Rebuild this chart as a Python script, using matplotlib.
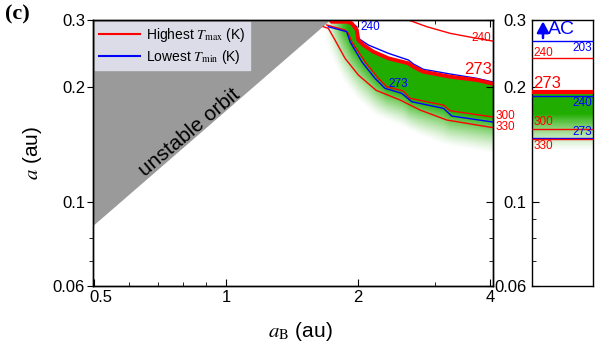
import numpy as np
import matplotlib
matplotlib.use('Agg')
import matplotlib.pyplot as plt
from matplotlib.colors import LinearSegmentedColormap
from matplotlib.ticker import NullFormatter
from matplotlib.lines import Line2D
import matplotlib.transforms as mtransforms

plt.rcParams['font.family'] = ['Liberation Sans', 'DejaVu Sans']
plt.rcParams['mathtext.fontset'] = 'stix'

# ---------------- data ----------------
crit = 0.174                      # unstable orbit boundary: a > crit * aB
edge_aB = np.array([0.45, 1.9])

tmax273_aB = [1.73, 1.742, 1.885, 1.935, 1.987, 2.003, 2.057, 2.167, 2.346, 2.605, 2.674, 2.818, 3.242, 3.730, 4.06]
tmax273_a = [0.300, 0.2969, 0.2969, 0.2941, 0.2824, 0.2658, 0.2579, 0.2476, 0.2379, 0.2308, 0.2261, 0.2194, 0.2129, 0.2087, 0.2040]

tmin240_aB = [1.89, 1.901, 1.987, 2.003, 2.111, 2.346, 2.605, 2.674, 2.818, 3.242, 3.730, 4.06]
tmin240_a = [0.301, 0.2982, 0.2881, 0.2685, 0.2579, 0.2452, 0.2355, 0.2299, 0.2226, 0.2164, 0.2108, 0.2062]

tmax300_aB = [1.697, 1.868, 1.901, 1.935, 2.075, 2.225, 2.325, 2.537, 2.628, 3.131, 3.242, 4.06]
tmax300_a = [0.2911, 0.2824, 0.2768, 0.2631, 0.2331, 0.2108, 0.2004, 0.1952, 0.1868, 0.1793, 0.1733, 0.1668]

tmin273_aB = [1.711, 1.885, 1.918, 2.040, 2.186, 2.305, 2.516, 2.652, 3.131, 3.271, 4.06]
tmin273_a = [0.2881, 0.2795, 0.2631, 0.2331, 0.2108, 0.1984, 0.1925, 0.1830, 0.1758, 0.1678, 0.1618]

tmax330_aB = [1.667, 1.711, 1.772, 1.868, 2.003, 2.20, 2.494, 2.770, 3.187, 4.06]
tmax330_a = [0.2881, 0.2853, 0.2658, 0.2379, 0.2151, 0.196, 0.1849, 0.1740, 0.1638, 0.1564]

tmax240_aB = [2.58, 2.605, 2.869, 3.242, 3.665, 4.06]
tmax240_a = [0.302, 0.300, 0.2881, 0.2768, 0.2695, 0.2640]

# AC (single star) panel levels
ac_tmin203 = 0.2642
ac_tmax240 = 0.2379
ac_tmax273 = 0.1937
ac_tmin240 = 0.1894
ac_tmax300 = 0.1551
ac_tmin273 = 0.1471
ac_tmax330 = 0.1460
ac_solid_low = 0.170
ac_fade_low = 0.136

x_ticks = [0.5, 1, 2, 4]
x_ticklabels = ['0.5', '1', '2', '4']
x_minor = [0.6, 0.7, 0.8, 0.9, 3]
y_ticks = [0.06, 0.1, 0.2, 0.3]
y_ticklabels = ['0.06', '0.1', '0.2', '0.3']

# ---------------- figure ----------------
fig = plt.figure(figsize=(6.13, 3.56), dpi=100)
ax = fig.add_axes([0.1512, 0.1966, 0.6530, 0.7472])
ax_ac = fig.add_axes([0.8674, 0.1966, 0.1000, 0.7472])

ax.set_xscale('log')
ax.set_yscale('log')
ax.set_xlim(0.497, 4.06)
ax.set_ylim(0.06, 0.3)

green = (0.13, 0.68, 0.0)
gcmap = LinearSegmentedColormap.from_list('gfade', [(*green, 0.0), (*green, 1.0)])

# green habitable shading below the 273 K T_max curve
gx = np.logspace(np.log10(1.6), np.log10(4.1), 500)
gy = np.logspace(np.log10(0.12), np.log10(0.305), 400)
LX, LY = np.meshgrid(np.log10(gx), np.log10(gy))
top = np.interp(LX, np.log10(tmax273_aB), np.log10(tmax273_a))
l300 = np.interp(LX, np.log10(tmax300_aB), np.log10(tmax300_a))
l330 = np.interp(LX, np.log10(tmax330_aB), np.log10(tmax330_a))
end = l330 - 26 / 380.5
I = np.clip((LY - end) / (l300 - end), 0, 1) ** 1.3
I[LY > top] = 0
h = np.clip((LX - np.log10(1.66)) / (np.log10(1.93) - np.log10(1.66)), 0, 1)
h = h * h * (3 - 2 * h)
I = I * h
ax.pcolormesh(gx, gy, np.ma.masked_less(I, 0.004), cmap=gcmap, vmin=0, vmax=1,
              shading='nearest', zorder=1, antialiased=False, linewidth=0)

# unstable region
ax.fill_between(edge_aB, crit * edge_aB, 0.32, color='#9a9a9a', lw=0, zorder=2)
ax.text(0.828, 0.1523, 'unstable orbit', rotation=40, fontsize=15,
        ha='center', va='center', zorder=4)

# temperature contours
thin = 1.0
ax.plot(tmax240_aB, tmax240_a, color='red', lw=thin, zorder=3)
ax.plot(tmax300_aB, tmax300_a, color='red', lw=thin, zorder=3)
ax.plot(tmax330_aB, tmax330_a, color='red', lw=thin, zorder=3)
ax.plot(tmin240_aB, tmin240_a, color='blue', lw=thin, zorder=3)
ax.plot(tmin273_aB, tmin273_a, color='blue', lw=thin, zorder=3)
ax.plot(tmax273_aB, tmax273_a, color='red', lw=2.8, zorder=3, solid_capstyle='round')

lab_fs = 8.5
ax.text(2.13, 0.2884, '240', color='blue', fontsize=lab_fs, ha='center', va='center', zorder=4)
ax.text(2.468, 0.2031, '273', color='blue', fontsize=lab_fs, ha='center', va='center', zorder=4)
ax.text(4.03, 0.2695, '240', color='red', fontsize=lab_fs, ha='right', va='center', zorder=4)
ax.text(4.03, 0.2217, '273', color='red', fontsize=12, ha='right', va='center', zorder=4)
ax.text(4.11, 0.1683, '300', color='red', fontsize=lab_fs, ha='left', va='center', clip_on=False)
ax.text(4.11, 0.1569, '330', color='red', fontsize=lab_fs, ha='left', va='center', clip_on=False)

# legend
handles = [Line2D([], [], color='red', lw=1.5), Line2D([], [], color='blue', lw=1.5)]
leg = ax.legend(handles, [r'Highest $T_{\rm max}$ (K)', r'Lowest $T_{\rm min}$ (K)'],
                loc='upper left', bbox_to_anchor=(0.006, 0.994), borderaxespad=0,
                fontsize=10, handlelength=2.9, handletextpad=0.5, labelspacing=0.3,
                borderpad=0.3, frameon=True, fancybox=False, facecolor='#dcdce8',
                edgecolor='#dcdce8', framealpha=1)
leg.set_zorder(5)

# ticks main
ax.set_xticks(x_ticks, labels=x_ticklabels)
ax.set_xticks(x_minor, minor=True)
ax.xaxis.set_minor_formatter(NullFormatter())
ax.set_yticks(y_ticks, labels=y_ticklabels)
ax.set_yticks([0.07, 0.08], minor=True)
ax.yaxis.set_minor_formatter(NullFormatter())
ax.tick_params(axis='x', which='both', direction='in', top=True, bottom=True, labelsize=12, pad=3)
ax.tick_params(axis='x', which='major', length=5)
ax.tick_params(axis='x', which='minor', length=3)

ax_r = ax.twinx()
ax_r.set_yscale('log')
ax_r.set_ylim(0.06, 0.3)
ax_r.set_yticks(y_ticks)
ax_r.set_yticks([0.07, 0.08, 0.09], minor=True)
ax_r.yaxis.set_major_formatter(NullFormatter())
ax_r.yaxis.set_minor_formatter(NullFormatter())
ax_r.tick_params(axis='y', which='both', direction='in', right=True, labelright=False)
ax_r.tick_params(axis='y', which='major', length=5)
ax_r.tick_params(axis='y', which='minor', length=3)

ax.tick_params(axis='y', which='both', direction='out', left=True, right=False, labelsize=12, pad=1)
ax.tick_params(axis='y', which='major', length=4.5)
ax.tick_params(axis='y', which='minor', length=3)

lab = ax.xaxis.get_major_ticks()[0].label1
lab.set_transform(lab.get_transform() + mtransforms.ScaledTranslation(7 / 100, 0, fig.dpi_scale_trans))

ax.set_xlabel(r'$a_{\rm B}$ (au)', fontsize=15)
ax.set_ylabel(r'$a$ (au)', fontsize=15)
ax.xaxis.set_label_coords(0.52, -0.128)
ax.yaxis.set_label_coords(-0.122, 0.5)

for sp in list(ax.spines.values()) + list(ax_r.spines.values()):
    sp.set_linewidth(1.0)

# ---------------- AC panel ----------------
ax_ac.set_yscale('log')
ax_ac.set_ylim(0.06, 0.3)
ax_ac.set_xlim(0, 1)
ac_y = np.logspace(np.log10(0.12), np.log10(ac_tmax273), 300)
ac_I = np.clip((np.log10(ac_y) - np.log10(ac_fade_low)) /
               (np.log10(ac_solid_low) - np.log10(ac_fade_low)), 0, 1) ** 1.3
ax_ac.pcolormesh([0, 1], ac_y, np.tile(ac_I[:, None], (1, 2)), cmap=gcmap, vmin=0, vmax=1,
                 shading='nearest', zorder=1, antialiased=False, linewidth=0)
ax_ac.hlines([ac_tmin203, ac_tmin240, ac_tmin273], 0, 1, colors='blue', lw=thin, zorder=3)
ax_ac.hlines([ac_tmax240, ac_tmax300, ac_tmax330], 0, 1, colors='red', lw=thin, zorder=3)
ax_ac.hlines([ac_tmax273], 0, 1, colors='red', lw=3.0, zorder=3)

ax_ac.text(0.99, 0.2540, '203', color='blue', fontsize=lab_fs, ha='right', va='center')
ax_ac.text(0.03, 0.2462, '240', color='red', fontsize=lab_fs, ha='left', va='center')
ax_ac.text(0.03, 0.2043, '273', color='red', fontsize=12, ha='left', va='center')
ax_ac.text(0.99, 0.1815, '240', color='blue', fontsize=lab_fs, ha='right', va='center')
ax_ac.text(0.03, 0.1614, '300', color='red', fontsize=lab_fs, ha='left', va='center')
ax_ac.text(0.99, 0.1528, '273', color='blue', fontsize=lab_fs, ha='right', va='center')
ax_ac.text(0.03, 0.1399, '330', color='red', fontsize=lab_fs, ha='left', va='center')

ax_ac.annotate('', xy=(0.184, 0.2975), xytext=(0.184, 0.2690),
               arrowprops=dict(arrowstyle='-|>,head_length=0.55,head_width=0.3', color='blue',
                               lw=1.8, mutation_scale=12, shrinkA=0, shrinkB=0))
ax_ac.text(0.27, 0.2838, 'AC', color='blue', fontsize=14, ha='left', va='center')

ax_ac.set_xticks([])
ax_ac.set_yticks(y_ticks, labels=y_ticklabels)
ax_ac.set_yticks([0.07, 0.08, 0.09], minor=True)
ax_ac.yaxis.set_minor_formatter(NullFormatter())
ax_ac.tick_params(axis='y', which='both', direction='in', left=True, right=False, labelsize=12, pad=3.5)
ax_ac.tick_params(axis='y', which='major', length=5)
ax_ac.tick_params(axis='y', which='minor', length=3)
for sp in ax_ac.spines.values():
    sp.set_linewidth(1.0)

fig.text(0.008, 0.988, '(c)', fontsize=16, fontweight='bold', family='Liberation Serif', va='top', ha='left')

fig.savefig('out.png', dpi=100)
